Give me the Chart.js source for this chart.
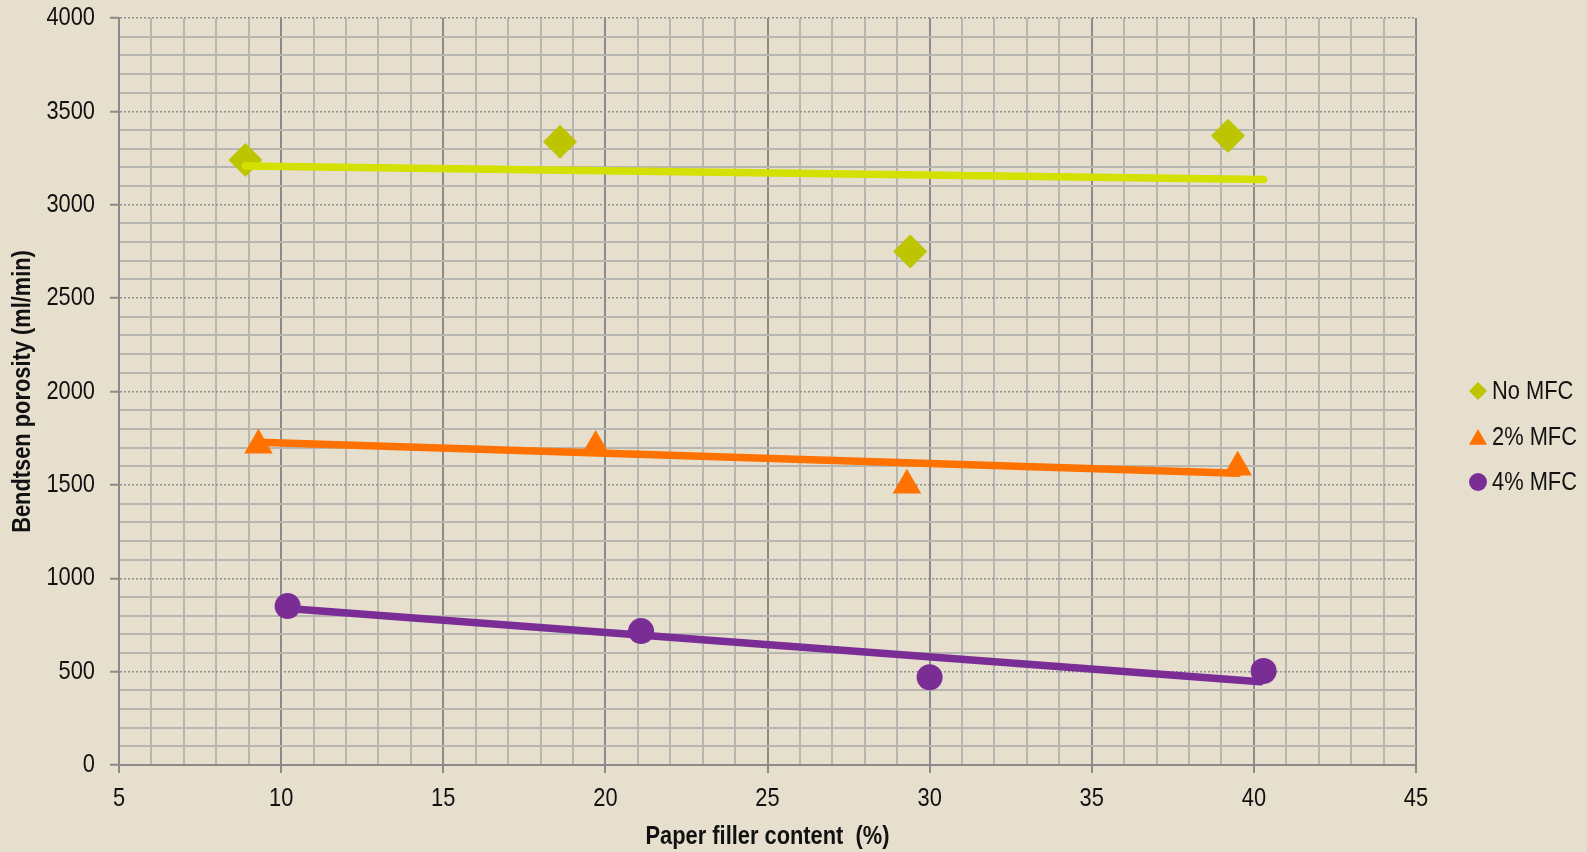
<!DOCTYPE html>
<html>
<head>
<meta charset="utf-8">
<script src="https://cdn.jsdelivr.net/npm/chart.js@4/dist/chart.umd.min.js"></script>
<style>
  html, body { margin: 0; padding: 0; background: #E6DFCD; }
  #wrap { width: 1587px; height: 852px; position: relative; }
</style>
</head>
<body>
<div id="wrap"><canvas id="c" width="1587" height="852"></canvas></div>
<script>
// Paper filler content (%) against Bendtsen porosity (ml/min)
const seriesNames = ['No MFC', '2% MFC', '4% MFC'];

const noMfcX = [8.9, 18.6, 29.4, 39.2];
const noMfcY = [3240, 3337, 2750, 3369];

const mfc2X = [9.3, 19.7, 29.3, 39.5];
const mfc2Y = [1712, 1705, 1498, 1594];

const mfc4X = [10.2, 21.1, 30.0, 40.3];
const mfc4Y = [851, 717, 470, 503];

// Linear trend lines: start and end points
const trendNoMfcX = [8.9, 40.3];
const trendNoMfcY = [3208, 3135];
const trend2X = [9.3, 39.5];
const trend2Y = [1728, 1562];
const trend4X = [10.2, 40.2];
const trend4Y = [838, 446];

const xTickLabels = [5, 10, 15, 20, 25, 30, 35, 40, 45];
const yTickLabels = [0, 500, 1000, 1500, 2000, 2500, 3000, 3500, 4000];

const colNoMfc = '#BDC400';
const colNoMfcLine = '#D3E000';
const col2 = '#FF7200';
const col4 = '#7B2D96';

const FONT = '"Liberation Sans", Arial, sans-serif';
const TEXT_SQUEEZE = 0.84;   // condensed lettering

const canvas = document.getElementById('c');
const context = canvas.getContext('2d');
// Draw every label horizontally condensed around its anchor point
const plainFillText = context.fillText.bind(context);
context.fillText = function (text, x, y) {
  this.save();
  this.translate(x, y);
  this.scale(TEXT_SQUEEZE, 1);
  plainFillText(text, 0, 0);
  this.restore();
};

function pts(xs, ys) { return xs.map((x, i) => ({ x: x, y: ys[i] })); }

const datasets = [
  { label: 'trend ' + seriesNames[0], data: pts(trendNoMfcX, trendNoMfcY), showLine: true,
    borderColor: colNoMfcLine, borderWidth: 7.5, borderCapStyle: 'round', pointRadius: 0, order: 0, trend: true },
  { label: 'trend ' + seriesNames[1], data: pts(trend2X, trend2Y), showLine: true,
    borderColor: col2, borderWidth: 7.5, borderCapStyle: 'round', pointRadius: 0, order: 0, trend: true },
  { label: 'trend ' + seriesNames[2], data: pts(trend4X, trend4Y), showLine: true,
    borderColor: col4, borderWidth: 7.5, borderCapStyle: 'round', pointRadius: 0, order: 0, trend: true },
  { label: seriesNames[0], data: pts(noMfcX, noMfcY), pointStyle: 'rectRot', pointRadius: 17,
    backgroundColor: colNoMfc, borderColor: colNoMfc, borderWidth: 0, order: 1, keyRadius: 9 },
  { label: seriesNames[1], data: pts(mfc2X, mfc2Y), pointStyle: 'triangle', pointRadius: 16.5,
    backgroundColor: col2, borderColor: col2, borderWidth: 0, order: 1, keyRadius: 10.5 },
  { label: seriesNames[2], data: pts(mfc4X, mfc4Y), pointStyle: 'circle', pointRadius: 13,
    backgroundColor: col4, borderColor: col4, borderWidth: 0, order: 1, keyRadius: 9 }
];

// Key on the right-hand side
const sideKey = {
  id: 'sideKey',
  afterDraw(chart) {
    const ctx = chart.ctx;
    const items = chart.data.datasets.filter(d => !d.trend);
    const x0 = 1478, y0 = 391, gap = 45.5;
    ctx.save();
    items.forEach((d, i) => {
      const y = y0 + i * gap + (d.pointStyle === 'triangle' ? 3 : 0);
      ctx.fillStyle = d.backgroundColor;
      ctx.strokeStyle = d.borderColor;
      ctx.lineWidth = 0;
      Chart.helpers.drawPoint(ctx, { pointStyle: d.pointStyle, radius: d.keyRadius, rotation: 0, borderWidth: 0 }, x0, y);
      ctx.fillStyle = '#111';
      ctx.font = '26px ' + FONT;
      ctx.textBaseline = 'middle';
      ctx.textAlign = 'left';
      ctx.fillText(d.label, 1492, y0 + i * gap + 1);
    });
    ctx.restore();
  }
};

new Chart(canvas, {
  type: 'scatter',
  data: { datasets: datasets },
  plugins: [sideKey],
  options: {
    responsive: false,
    animation: false,
    layout: { padding: { top: 18, right: 171, bottom: 0, left: 0 } },
    plugins: { legend: { display: false }, tooltip: { enabled: false } },
    scales: {
      x: {
        type: 'linear', min: 5, max: 45,
        afterFit: s => { s.height = 87; s.paddingLeft = 0; s.paddingRight = 0; },
        ticks: {
          stepSize: 1, autoSkip: false, maxRotation: 0, padding: 10,
          color: '#111', font: { family: FONT, size: 26 },
          callback: v => (xTickLabels.includes(v) ? String(v) : '')
        },
        grid: {
          color: c => (c.tick && c.tick.value % 5 === 0 ? '#8B8B8B' : '#B8B6B1'),
          lineWidth: 2,
          tickLength: 8,
          tickWidth: 2,
          tickBorderDash: [],
          tickColor: c => (c.tick && c.tick.value % 5 === 0 ? '#8B8B8B' : 'rgba(0,0,0,0)')
        },
        border: { color: '#8B8B8B', width: 2 },
        title: {
          display: true, text: 'Paper filler content  (%)', color: '#111',
          font: { family: FONT, size: 26, weight: 'bold' }, padding: { bottom: 0, top: 0 }
        }
      },
      y: {
        type: 'linear', min: 0, max: 4000,
        afterFit: s => { s.width = 119; s.paddingTop = 0; s.paddingBottom = 0; },
        ticks: {
          stepSize: 100, autoSkip: false, padding: 15,
          color: '#111', font: { family: FONT, size: 26 },
          callback: v => (yTickLabels.includes(v) ? String(v) : '')
        },
        grid: {
          color: c => (c.tick && c.tick.value % 500 === 0 ? '#8E8E8E' : '#B8B6B1'),
          lineWidth: c => (c.tick && c.tick.value % 500 === 0 ? 1.5 : 2),
          tickLength: 9,
          tickWidth: 2,
          tickBorderDash: [],
          tickColor: c => (c.tick && c.tick.value % 500 === 0 ? '#8B8B8B' : 'rgba(0,0,0,0)')
        },
        border: {
          color: '#8B8B8B', width: 2,
          dash: c => (c.tick && c.tick.value % 500 === 0 && c.tick.value !== 0 ? [2, 2] : [])
        },
        title: {
          display: true, text: 'Bendtsen porosity (ml/min)', color: '#111',
          font: { family: FONT, size: 26, weight: 'bold' }, padding: { top: 7, bottom: 0 }
        }
      }
    }
  }
});
</script>
</body>
</html>
